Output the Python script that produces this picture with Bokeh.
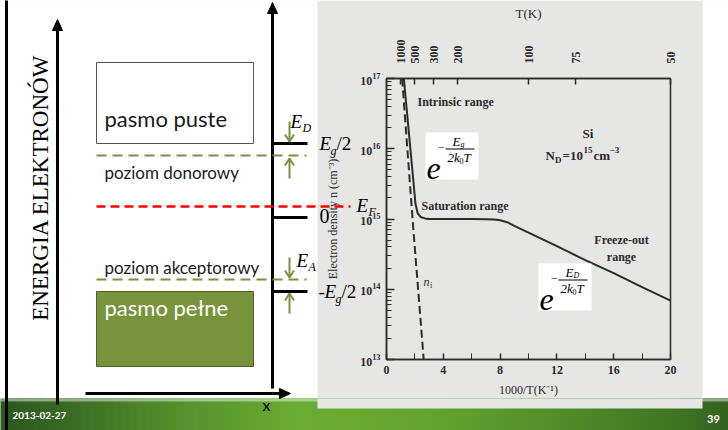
from math import hypot, pi

from bokeh.core.properties import value
from bokeh.embed import file_html
from bokeh.models import CustomJSTickFormatter, FixedTicker, LinearAxis, LinearScale, Range1d
from bokeh.plotting import figure
from bokeh.resources import INLINE

# ---- data: electron density in Si, N_D = 1e15 cm^-3, against 1000/T ----
inv_T = [1.22, 1.5, 1.8, 2.04, 2.2, 2.4, 2.7, 3.0, 4.0, 5.0, 6.0, 7.0, 7.6,
         8.0, 8.5, 9.0, 10.0, 12.0, 14.0, 16.0, 18.0, 20.0]
n_e = [1.0e17, 2.5e16, 5.5e15, 1.65e15, 1.2e15, 1.07e15, 1.02e15, 1.0e15,
       1.0e15, 1.0e15, 1.0e15, 0.99e15, 0.98e15, 0.96e15, 0.9e15, 0.8e15,
       6.4e14, 4.1e14, 2.6e14, 1.7e14, 1.07e14, 6.9e13]
inv_T_ni = [1.1, 1.88, 2.62]
n_i = [1.0e17, 7.6e14, 1.0e13]
T_ticks = [1000, 500, 300, 200, 100, 75, 50]
x_ticks = [0, 4, 8, 12, 16, 20]
x_minor = [2, 6, 10, 14, 18]
n_decades = [1e13, 1e14, 1e15, 1e16, 1e17]

# ---- page geometry and colours ----
W, H = 728, 430
FL, FR, FT, FB = 386, 670, 78, 359          # plot frame of the density chart
SCAN = "#e6e6e4"
INK = "#2b2b2b"
GREEN = "#77933C"
SERIF = "Liberation Serif"
SANS = "Lato"

p = figure(width=W, height=H, x_range=Range1d(0, 20), y_range=Range1d(1e13, 1e17),
           y_axis_type="log", output_backend="svg", toolbar_location=None,
           min_border_left=FL, min_border_right=W - FR,
           min_border_top=FT, min_border_bottom=H - FB)
# pixel coordinate system for the slide decorations
p.extra_x_ranges = {"sx": Range1d(FL, FR)}
p.extra_y_ranges = {"sy": Range1d(FB, FT)}
p.extra_x_scales = {"sx": LinearScale()}
p.extra_y_scales = {"sy": LinearScale()}

p.background_fill_color = SCAN
p.border_fill_color = SCAN
p.outline_line_color = INK
p.outline_line_width = 1.5
p.grid.visible = False

# ---- axes of the density chart ----
xa = p.xaxis[0]
xa.ticker = FixedTicker(ticks=x_ticks, minor_ticks=x_minor)
xa.axis_label = "1000/T(K⁻¹)"
ya = p.yaxis[0]
ya.ticker = FixedTicker(ticks=n_decades,
                        minor_ticks=[m * d for d in n_decades[:-1] for m in range(2, 10)])
ya.axis_label = "Electron density n (cm⁻³)"

top = LinearAxis(ticker=FixedTicker(ticks=[1000 / t for t in T_ticks], minor_ticks=[]),
                 formatter=CustomJSTickFormatter(code="return String(Math.round(1000 / tick));"),
                 axis_label="T(K)", major_label_orientation=pi / 2)
p.add_layout(top, "above")

for ax in (xa, ya, top):
    ax.axis_line_color = INK
    ax.axis_line_width = 1.5
    ax.major_tick_line_color = INK
    ax.minor_tick_line_color = INK
    ax.major_tick_line_width = 1.5
    ax.major_tick_out = 0
    ax.minor_tick_out = 0
    ax.major_label_text_font = SERIF
    ax.major_label_text_font_style = "bold"
    ax.major_label_text_font_size = "12px"
    ax.major_label_text_color = INK
    ax.axis_label_text_font = SERIF
    ax.axis_label_text_font_style = "normal"
    ax.axis_label_text_font_size = "12px"
    ax.axis_label_text_color = INK

xa.major_tick_in = 6
xa.minor_tick_in = 6
xa.major_label_standoff = 6
xa.axis_label_standoff = 6
ya.major_tick_in = 8
ya.minor_tick_in = 5
ya.major_label_standoff = 6
ya.axis_label_standoff = 17
top.major_tick_in = 6
top.major_label_standoff = 15
top.axis_label_standoff = 16
top.axis_label_text_font_size = "13px"

# ---- density curves ----
p.line(inv_T, n_e, line_color=INK, line_width=2)
p.line(inv_T_ni, n_i, line_color=INK, line_width=2, line_dash="8 4")

PX = dict(x_range_name="sx", y_range_name="sy")


def label(x, y, s, size, font=SERIF, style="normal", color=INK, align="left",
          baseline="middle", angle=0.0, level="overlay"):
    p.text(x=[x], y=[y], text=[s], text_font=value(font), text_font_size=f"{size}px",
           text_font_style=style, text_color=color, text_align=align,
           text_baseline=baseline, angle=angle, level=level, **PX)


def arrow(x0, y0, x1, y1, color, width, head_len, head_half, filled):
    """Shaft plus head, drawn in page pixels."""
    L = hypot(x1 - x0, y1 - y0)
    ux, uy = (x1 - x0) / L, (y1 - y0) / L
    bx, by = x1 - ux * head_len, y1 - uy * head_len
    lx, ly = bx - uy * head_half, by + ux * head_half
    rx, ry = bx + uy * head_half, by - ux * head_half
    if filled:
        p.segment(x0=[x0], y0=[y0], x1=[bx], y1=[by], line_color=color,
                  line_width=width, level="overlay", **PX)
        p.patch(x=[x1, lx, rx], y=[y1, ly, ry], fill_color=color, line_color=color,
                level="overlay", **PX)
    else:
        p.segment(x0=[x0], y0=[y0], x1=[x1], y1=[y1], line_color=color,
                  line_width=width, level="overlay", **PX)
        p.line(x=[lx, x1, rx], y=[ly, y1, ry], line_color=color, line_width=width,
               level="overlay", **PX)


# ---- slide background: white page, green footer band ----
p.quad(left=0, right=317, top=0, bottom=398, fill_color="white", line_color=None,
       level="annotation", **PX)
p.quad(left=702, right=W, top=0, bottom=398, fill_color="white", line_color=None,
       level="annotation", **PX)

band_stops = [(0, (44, 86, 30)), (70, (58, 108, 36)), (180, (84, 146, 44)),
              (300, (106, 172, 50)), (430, (98, 164, 48)), (560, (80, 142, 40)),
              (680, (62, 116, 34)), (728, (50, 96, 30))]


def band_colour(x):
    for (xa0, c0), (xa1, c1) in zip(band_stops[:-1], band_stops[1:]):
        if xa0 <= x <= xa1:
            t = (x - xa0) / (xa1 - xa0)
            r, g, b = (round(a + (b_ - a) * t) for a, b_ in zip(c0, c1))
            return f"#{r:02x}{g:02x}{b:02x}"
    return "#326020"


edges = list(range(0, W + 1, 8))
p.quad(left=edges[:-1], right=[e + 9 for e in edges[1:]], top=398, bottom=H,
       fill_color=[band_colour(e + 4) for e in edges[:-1]], line_color=None,
       level="annotation", **PX)
p.quad(left=0, right=W, top=398, bottom=401, fill_color="white", fill_alpha=0.45,
       line_color=None, level="annotation", **PX)
p.quad(left=317, right=702, top=398, bottom=408, fill_color=SCAN, line_color=None,
       level="annotation", **PX)
label(12, 415, "2013-02-27", 10, font=SANS, style="bold", color="white")
label(713, 418, "39", 11, font=SANS, style="bold", color="white", align="center")

# ---- energy band diagram ----
p.segment(x0=[6], y0=[0], x1=[6], y1=[H], line_color="black", line_width=3,
          level="overlay", **PX)
label(40, 187, "ENERGIA ELEKTRONÓW", 23, color="black", align="center", angle=pi / 2)
arrow(57, 404, 57, 19, "black", 3, 11, 5, True)
arrow(272, 388, 272, 2, "black", 3, 11, 5, True)
arrow(85, 393, 290, 393, "black", 3, 11, 5, True)
label(266, 404, "x", 16, font=SANS, color="black", align="center")

p.quad(left=96, right=253, top=62, bottom=143, fill_color="white", line_color="#555555",
       line_width=1, level="overlay", **PX)
p.quad(left=96, right=253, top=291, bottom=366, fill_color=GREEN, line_color="#4f6228",
       line_width=1, level="overlay", **PX)
label(104, 118, "pasmo puste", 22, font=SANS, color="#1a1a1a")
label(104, 307, "pasmo pełne", 22, font=SANS, color="white")
label(104, 172, "poziom donorowy", 17, font=SANS, color="#1a1a1a")
label(104, 267, "poziom akceptorowy", 17, font=SANS, color="#1a1a1a")

p.segment(x0=[96, 96], y0=[155, 279], x1=[306, 306], y1=[155, 279], line_color=GREEN,
          line_width=2, line_dash="10 6", level="overlay", **PX)
p.segment(x0=[96], y0=[206], x1=[350], y1=[206], line_color="#ff0000", line_width=2.5,
          line_dash="9 5", level="overlay", **PX)
p.segment(x0=[272, 272, 272], y0=[143, 217, 291], x1=[307, 307, 307], y1=[143, 217, 291],
          line_color="black", line_width=3, level="overlay", **PX)

arrow(289, 121, 289, 141, GREEN, 2, 7, 4.5, False)
arrow(289, 178, 289, 158, GREEN, 2, 7, 4.5, False)
arrow(289, 257, 289, 277, GREEN, 2, 7, 4.5, False)
arrow(289, 313, 289, 293, GREEN, 2, 7, 4.5, False)

label(290, 121, "E", 19, style="italic", color="black")
label(302, 127, "D", 12, style="italic", color="black")
label(296, 260, "E", 19, style="italic", color="black")
label(308, 266, "A", 12, style="italic", color="black")
label(319, 143, "E", 19, style="italic", color="black")
label(330, 150, "g", 12, style="italic", color="black")
label(336, 143, "/2", 19, color="black")
label(356, 205, "E", 19, style="italic", color="black")
label(368, 211, "F", 12, style="italic", color="black")
label(319, 215, "0", 20, color="black")
label(318, 291, "-", 19, color="black")
label(324, 291, "E", 19, style="italic", color="black")
label(335, 298, "g", 12, style="italic", color="black")
label(341, 291, "/2", 19, color="black")

# ---- annotations inside the density chart ----
label(417, 101, "Intrinsic range", 12, style="bold", level="glyph")
label(421, 205, "Saturation range", 12, style="bold", level="glyph")
label(582, 133, "Si", 13, style="bold", level="glyph")
label(545, 155, "N", 13, style="bold", level="glyph")
label(554.5, 159, "D", 9, style="bold", level="glyph")
label(562, 155, "=10", 13, style="bold", level="glyph")
label(583, 149, "15", 9, style="bold", level="glyph")
label(593, 155, "cm", 13, style="bold", level="glyph")
label(609, 149, "−3", 9, style="bold", level="glyph")
label(621, 239, "Freeze-out", 12, style="bold", align="center", level="glyph")
label(621, 256, "range", 12, style="bold", align="center", level="glyph")
label(423, 281, "n", 12, style="italic", level="glyph")
label(429.5, 285, "i", 8, level="glyph")


def exp_box(bx, by, sub):
    """White box holding exp(-E/(2 k0 T))."""
    p.quad(left=bx, right=bx + 53, top=by, bottom=by + 47, fill_color="white",
           line_color=None, level="glyph", **PX)
    label(bx + 1, by + 36, "e", 32, style="italic", color="black", level="glyph")
    label(bx + 16, by + 14, "−", 12, color="black", align="center", level="glyph")
    label(bx + 27, by + 9, "E", 13, style="italic", color="black", level="glyph")
    label(bx + 35, by + 12, sub, 8, style="italic", color="black", level="glyph")
    p.segment(x0=[bx + 20], y0=[by + 16.5], x1=[bx + 49], y1=[by + 16.5],
              line_color="black", line_width=1, level="glyph", **PX)
    label(bx + 22, by + 25, "2k", 13, style="italic", color="black", level="glyph")
    label(bx + 34, by + 28, "0", 8, color="black", level="glyph")
    label(bx + 38, by + 25, "T", 13, style="italic", color="black", level="glyph")


exp_box(425, 132, "g")
exp_box(538, 263, "D")

open("out.html", "w").write(file_html(p, INLINE))
